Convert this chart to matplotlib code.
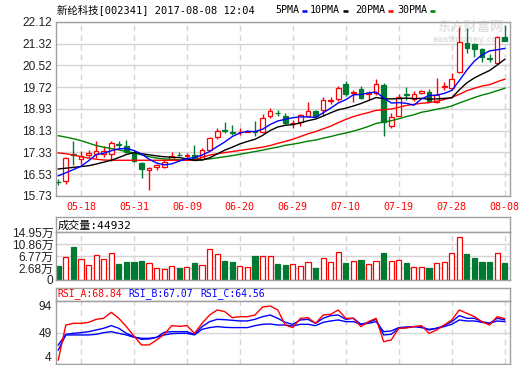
import numpy as np
import matplotlib
matplotlib.use('Agg')
import matplotlib.pyplot as plt
from matplotlib.lines import Line2D

# trading days shown (2017)
dates = ['05-15', '05-16', '05-17', '05-18', '05-19', '05-22', '05-23', '05-24', '05-25', '05-26',
         '05-31', '06-01', '06-02', '06-05', '06-06', '06-07', '06-08', '06-09', '06-12', '06-13',
         '06-14', '06-15', '06-16', '06-19', '06-20', '06-21', '06-22', '06-23', '06-26', '06-27',
         '06-28', '06-29', '06-30', '07-03', '07-04', '07-05', '07-06', '07-07', '07-10', '07-11',
         '07-12', '07-13', '07-14', '07-17', '07-18', '07-19', '07-20', '07-21', '07-24', '07-25',
         '07-26', '07-27', '07-28', '07-31', '08-01', '08-02', '08-03', '08-04', '08-07', '08-08']
date_labels = ['05-18', '05-31', '06-09', '06-20', '06-29', '07-10', '07-19', '07-28', '08-08']

opens = [16.26, 16.27, 17.28, 17.09, 17.25, 17.27, 17.27, 17.27, 17.63, 17.57,
         17.33, 16.94, 16.67, 16.78, 16.79, 17.10, 17.25, 17.21, 17.22, 17.09,
         17.43, 17.88, 18.14, 18.07, 18.06, 18.09, 18.12, 18.08, 18.65, 18.79,
         18.67, 18.39, 18.43, 18.68, 18.85, 18.87, 19.21, 19.28, 19.84, 19.52,
         19.66, 19.48, 19.50, 19.81, 18.28, 18.67, 19.46, 19.29, 19.50, 19.54,
         19.17, 19.72, 19.68, 20.27, 21.33, 21.29, 21.12, 20.80, 20.60, 21.57]
highs = [16.36, 17.15, 17.73, 17.37, 17.40, 17.76, 17.55, 17.76, 17.73, 17.77,
         17.43, 16.98, 16.78, 16.90, 17.05, 17.35, 17.35, 17.30, 17.61, 17.50,
         17.90, 18.22, 18.43, 18.33, 18.22, 18.16, 18.49, 18.75, 18.95, 18.90,
         18.77, 18.52, 18.75, 19.16, 18.90, 19.37, 19.36, 19.76, 19.96, 19.62,
         19.77, 19.57, 20.01, 19.89, 18.76, 19.47, 19.74, 19.58, 19.63, 19.66,
         20.05, 19.91, 20.24, 21.94, 21.88, 21.33, 21.14, 20.92, 21.61, 21.99]
lows = [16.14, 16.16, 16.88, 16.90, 17.16, 17.12, 17.16, 17.00, 17.45, 17.30,
        16.96, 16.39, 15.94, 16.70, 16.76, 17.06, 17.18, 17.13, 17.04, 17.04,
        17.40, 17.82, 18.04, 17.95, 17.95, 18.06, 17.92, 18.05, 18.59, 18.65,
        18.35, 18.22, 18.30, 18.66, 18.62, 18.65, 19.09, 19.20, 19.40, 19.16,
        19.28, 19.25, 19.45, 17.92, 18.24, 18.65, 19.26, 19.22, 19.46, 19.17,
        19.14, 19.61, 19.63, 20.23, 20.96, 20.81, 20.65, 20.65, 20.56, 21.41]
closes = [16.23, 17.12, 17.25, 17.21, 17.29, 17.37, 17.39, 17.67, 17.60, 17.33,
          17.00, 16.73, 16.76, 16.88, 16.97, 17.21, 17.22, 17.23, 17.06, 17.43,
          17.85, 18.13, 18.10, 18.04, 18.09, 18.12, 18.08, 18.59, 18.85, 18.76,
          18.40, 18.42, 18.71, 18.85, 18.67, 19.26, 19.25, 19.68, 19.46, 19.56,
          19.32, 19.52, 19.84, 18.43, 18.61, 19.35, 19.43, 19.46, 19.59, 19.22,
          19.44, 19.75, 20.02, 21.37, 21.15, 21.12, 20.84, 20.77, 21.57, 21.41]

ma5 = [16.47, 16.58, 16.70, 16.82, 17.02, 17.25, 17.30, 17.39, 17.46, 17.47,
       17.40, 17.27, 17.08, 16.94, 16.87, 16.91, 17.01, 17.10, 17.14, 17.23,
       17.36, 17.54, 17.71, 17.91, 18.04, 18.10, 18.09, 18.18, 18.35, 18.48,
       18.54, 18.60, 18.63, 18.63, 18.61, 18.78, 18.95, 19.14, 19.26, 19.44,
       19.45, 19.51, 19.54, 19.33, 19.14, 19.15, 19.13, 19.06, 19.29, 19.41,
       19.43, 19.49, 19.60, 19.96, 20.35, 20.68, 20.90, 21.05, 21.09, 21.14]
ma10 = [16.72, 16.75, 16.78, 16.81, 16.84, 16.90, 16.97, 17.04, 17.14, 17.25,
        17.32, 17.28, 17.24, 17.20, 17.17, 17.15, 17.14, 17.09, 17.04, 17.05,
        17.13, 17.27, 17.41, 17.52, 17.64, 17.73, 17.81, 17.95, 18.13, 18.26,
        18.32, 18.35, 18.41, 18.49, 18.55, 18.66, 18.78, 18.89, 18.95, 19.03,
        19.12, 19.23, 19.34, 19.30, 19.29, 19.30, 19.32, 19.30, 19.31, 19.28,
        19.29, 19.31, 19.33, 19.62, 19.88, 20.06, 20.20, 20.33, 20.53, 20.74]
ma20 = [17.31, 17.28, 17.23, 17.17, 17.12, 17.08, 17.05, 17.04, 17.04, 17.04,
        17.04, 17.04, 17.04, 17.04, 17.04, 17.04, 17.04, 17.04, 17.04, 17.15,
        17.23, 17.28, 17.32, 17.36, 17.40, 17.44, 17.48, 17.52, 17.58, 17.66,
        17.73, 17.81, 17.91, 18.01, 18.09, 18.19, 18.29, 18.42, 18.54, 18.64,
        18.72, 18.79, 18.87, 18.89, 18.92, 18.98, 19.05, 19.09, 19.13, 19.15,
        19.20, 19.27, 19.34, 19.46, 19.59, 19.68, 19.76, 19.81, 19.92, 20.01]
ma30 = [17.94, 17.89, 17.83, 17.76, 17.67, 17.58, 17.52, 17.47, 17.42, 17.36,
        17.31, 17.24, 17.17, 17.12, 17.09, 17.07, 17.06, 17.05, 17.05, 17.06,
        17.09, 17.13, 17.17, 17.21, 17.26, 17.31, 17.36, 17.41, 17.47, 17.52,
        17.59, 17.63, 17.68, 17.74, 17.78, 17.85, 17.91, 17.98, 18.04, 18.11,
        18.19, 18.28, 18.39, 18.44, 18.49, 18.56, 18.64, 18.71, 18.80, 18.85,
        18.91, 18.96, 19.03, 19.14, 19.24, 19.34, 19.43, 19.50, 19.59, 19.68]

# volume in 万 (10k)
vol = [3.39, 6.58, 9.91, 5.69, 3.74, 7.06, 5.69, 7.75, 4.08, 4.76,
       4.76, 5.11, 4.32, 2.60, 2.26, 3.29, 2.71, 2.95, 4.32, 3.63,
       9.22, 7.40, 5.11, 4.66, 3.29, 2.95, 6.82, 6.82, 6.82, 4.08,
       3.74, 3.98, 3.39, 4.66, 2.71, 6.03, 4.66, 8.09, 4.42, 5.00,
       5.45, 3.98, 5.00, 7.75, 5.00, 5.35, 4.32, 2.95, 2.95, 2.71,
       4.32, 4.66, 7.75, 13.24, 7.40, 6.14, 4.76, 4.76, 7.75, 4.4932]

rsi_a = [9.7, 59.7, 62.1, 62.1, 63.5, 67.8, 69.3, 77.8, 69.3, 57.4,
         44.0, 31.2, 31.2, 38.3, 46.4, 58.8, 57.8, 58.8, 47.8, 62.1,
         74.0, 81.2, 78.8, 70.2, 71.6, 71.6, 74.0, 85.4, 86.9, 81.2,
         59.7, 56.0, 69.3, 70.2, 62.1, 74.0, 75.0, 81.2, 69.3, 69.3,
         57.4, 64.5, 69.3, 35.9, 38.3, 55.0, 55.5, 57.4, 58.8, 47.8,
         52.6, 59.7, 66.9, 81.2, 76.4, 71.6, 64.5, 59.7, 71.6, 68.84]
rsi_b = [31.2, 46.4, 47.8, 48.8, 50.2, 52.6, 55.0, 58.8, 55.0, 47.8,
         43.1, 39.3, 39.7, 42.1, 49.3, 50.2, 50.2, 50.2, 46.4, 57.4,
         64.5, 67.8, 67.3, 66.4, 65.5, 65.5, 67.8, 71.6, 74.0, 69.3,
         63.5, 60.7, 66.9, 67.8, 62.1, 69.3, 73.1, 74.0, 67.8, 69.3,
         60.7, 63.5, 67.8, 45.5, 46.4, 55.0, 56.0, 57.4, 57.4, 52.6,
         55.0, 58.8, 64.5, 73.1, 69.3, 69.3, 64.5, 62.1, 69.3, 67.07]
rsi_c = [24.0, 45.5, 45.5, 45.5, 45.5, 46.4, 48.8, 50.2, 47.8, 45.5,
         42.1, 40.7, 40.7, 42.1, 45.5, 47.4, 47.8, 47.8, 45.5, 53.5,
         56.0, 57.4, 56.4, 56.0, 56.0, 56.0, 58.8, 60.7, 61.2, 59.7,
         59.7, 58.3, 60.7, 60.7, 58.8, 63.5, 65.5, 66.9, 64.5, 64.5,
         60.7, 62.1, 64.5, 50.2, 51.2, 56.0, 56.9, 57.4, 56.0, 53.5,
         55.0, 57.4, 60.7, 66.9, 65.5, 65.5, 63.5, 62.1, 65.5, 64.56]

price_ticks = [15.73, 16.53, 17.33, 18.13, 18.93, 19.72, 20.52, 21.32, 22.12]
vol_ticks = [2.68, 6.77, 10.86, 14.95]
rsi_ticks = [4, 49, 94]

W, H = 520, 365
RED = '#ff0000'
GRN = '#007a33'
GRID = '#d4d4d4'
EDGE = '#a0a0a0'
mono = ['DejaVu Sans Mono', 'Noto Sans CJK SC']
sans = ['Liberation Sans', 'Noto Sans CJK SC']


def box(x0, y0, x1, y1):
    # pixel box -> figure fraction
    return [x0 / W, 1 - y1 / H, (x1 - x0) / W, (y1 - y0) / H]


def frame(ax):
    for s in ax.spines.values():
        s.set_color(EDGE)
        s.set_linewidth(1)
    ax.tick_params(length=0)


o = np.array(opens)
c = np.array(closes)
hi = np.array(highs)
lo = np.array(lows)
v = np.array(vol)
x = np.arange(len(c))
up = c >= o
body_lo = np.minimum(o, c)
body_hi = np.maximum(o, c)
body_h = np.maximum(body_hi - body_lo, 0.012)
date_idx = [dates.index(d) for d in date_labels]
xlim = (-0.3, len(c) - 0.3)

fig = plt.figure(figsize=(5.2, 3.65), dpi=100)

# ---- price panel
ax = fig.add_axes(box(56, 21.7, 510, 196))
frame(ax)
ax.set_xlim(*xlim)
ax.set_ylim(price_ticks[0], price_ticks[-1])
ax.set_yticks(price_ticks)
ax.set_yticklabels(['%.2f' % t for t in price_ticks], family=sans, fontsize=8.6, color='#222222')
ax.set_xticks(date_idx)
ax.set_xticklabels(date_labels, family=mono, fontsize=7.2, color=RED)
ax.tick_params(axis='y', pad=3)
ax.tick_params(axis='x', pad=4)
ax.grid(axis='y', color=GRID, lw=1, ls='-')
ax.grid(axis='x', color=GRID, lw=1, ls=(0, (4, 3)))
ax.set_axisbelow(True)

ax.text(0.912, 0.972, '东方财富网', transform=ax.transAxes, ha='center', va='center',
        color='#e2e2e2', fontsize=9.5, fontweight='bold', family=['Noto Sans CJK SC'], zorder=0.6)
ax.text(0.912, 0.90, 'eastmoney.com', transform=ax.transAxes, ha='center', va='center',
        color='#e2e2e2', fontsize=6, fontweight='bold', family=['DejaVu Sans'], zorder=0.6)

ax.vlines(x[up], lo[up], body_lo[up], color=RED, lw=1, zorder=2)
ax.vlines(x[up], body_hi[up], hi[up], color=RED, lw=1, zorder=2)
ax.vlines(x[~up], lo[~up], hi[~up], color=GRN, lw=1, zorder=2)
ax.bar(x[up], body_h[up], bottom=body_lo[up], width=0.62, facecolor='white',
       edgecolor=RED, lw=0.9, zorder=3)
ax.bar(x[~up], body_h[~up], bottom=body_lo[~up], width=0.62, facecolor=GRN,
       edgecolor=GRN, lw=0.9, zorder=3)

ax.plot(x, ma30, color='#008000', lw=1, zorder=4)
ax.plot(x, ma20, color=RED, lw=1, zorder=4)
ax.plot(x, ma10, color='black', lw=1, zorder=4)
ax.plot(x, ma5, color='#0000ff', lw=1, zorder=4)

# title row
fig.text(57 / W, 1 - 10 / H, '新纶科技[002341] 2017-08-08 12:04', family=mono,
         fontsize=7.5, va='center', ha='left', color='black')
legend = [('5PMA', 275, '#0000ff'), ('10PMA', 310, 'black'),
          ('20PMA', 355, RED), ('30PMA', 397, '#008000')]
for name, px, col in legend:
    t = fig.text(px / W, 1 - 10 / H, name, family=mono, fontsize=7.2, va='center', ha='left')
    x_end = px + 6.0 * len(name) + 3
    fig.add_artist(Line2D([x_end / W, (x_end + 5) / W], [1 - 11 / H, 1 - 11 / H],
                          color=col, lw=1.8, solid_capstyle='butt'))

# ---- volume panel
axvh = fig.add_axes(box(56, 217, 510, 232.3))
frame(axvh)
axvh.set_xticks([])
axvh.set_yticks([])
axvh.text(0.003, 0.45, '成交量:44932', transform=axvh.transAxes, va='center', ha='left',
          family=mono, fontsize=8, color='black')

VMIN = -1.41
axv = fig.add_axes(box(56, 232.3, 510, 280))
frame(axv)
axv.set_xlim(*xlim)
axv.set_ylim(VMIN, vol_ticks[-1])
axv.set_yticks([VMIN] + vol_ticks)
axv.set_yticklabels(['0'] + ['%.2f万' % t for t in vol_ticks], family=sans,
                    fontsize=8.6, color='#222222')
axv.tick_params(axis='y', pad=2)
axv.set_xticks(date_idx)
axv.tick_params(axis='x', labelbottom=False)
axv.grid(axis='y', color=GRID, lw=1, ls='-')
axv.grid(axis='x', color=GRID, lw=1, ls=(0, (4, 3)))
axv.set_axisbelow(True)
axv.bar(x[up], (v - VMIN)[up], bottom=VMIN, width=0.68, facecolor='white', edgecolor=RED, lw=0.9)
axv.bar(x[~up], (v - VMIN)[~up], bottom=VMIN, width=0.68, facecolor=GRN, edgecolor=GRN, lw=0.9)

# ---- RSI panel
axrh = fig.add_axes(box(56, 287.7, 510, 301))
frame(axrh)
axrh.set_xticks([])
axrh.set_yticks([])
rsi_head = [('RSI_A:68.84', 57, RED), ('RSI_B:67.07', 128, '#0000ff'), ('RSI_C:64.56', 200, '#0000ff')]
for txt, px, col in rsi_head:
    fig.text(px / W, 1 - 294 / H, txt, family=mono, fontsize=7, color=col, va='center', ha='left')

axr = fig.add_axes(box(56, 301, 510, 364))
frame(axr)
axr.set_xlim(*xlim)
axr.set_ylim(rsi_ticks[0], rsi_ticks[-1])
axr.set_yticks(rsi_ticks)
labs = axr.set_yticklabels([str(t) for t in rsi_ticks], family=sans, fontsize=8.6, color='#222222')
labs[0].set_va('bottom')
labs[-1].set_va('top')
axr.tick_params(axis='y', pad=3)
axr.set_xticks(date_idx)
axr.tick_params(axis='x', labelbottom=False)
axr.grid(axis='y', color=GRID, lw=1, ls='-')
axr.grid(axis='x', color=GRID, lw=1, ls=(0, (4, 3)))
axr.set_axisbelow(True)
axr.plot(x, rsi_c, color='#0000ff', lw=1)
axr.plot(x, rsi_b, color='#0000ff', lw=1)
axr.plot(x, rsi_a, color=RED, lw=1)

fig.savefig('out.png', dpi=100)
